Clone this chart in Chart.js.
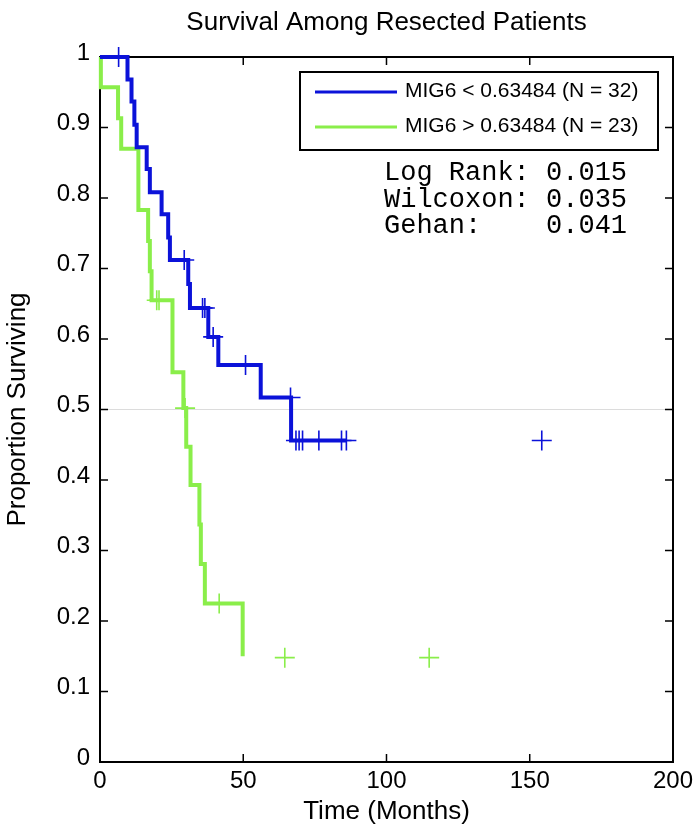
<!DOCTYPE html>
<html>
<head>
<meta charset="utf-8">
<script src="https://cdn.jsdelivr.net/npm/chart.js@4.4.1/dist/chart.umd.min.js"></script>
<style>
  html, body { margin: 0; padding: 0; background: #fff; }
  #wrap { width: 698px; height: 830px; }
</style>
</head>
<body>
<div id="wrap"><canvas id="kmChart" width="698" height="830"></canvas></div>
<script>
const chartTitle = "Survival Among Resected Patients";
const xTitle = "Time (Months)";
const yTitle = "Proportion Surviving";
const lowLabel = "MIG6 < 0.63484 (N = 32)";
const highLabel = "MIG6 > 0.63484 (N = 23)";
const statLines = ["Log Rank: 0.015", "Wilcoxon: 0.035", "Gehan:    0.041"];

// step curves: time of each drop and the survival just after it
const lowTimes = [0, 9.6, 11.0, 12.0, 12.8, 16.3, 17.4, 21.5, 23.8, 24.4, 30.8, 31.4, 37.8, 41.3, 56.1, 66.7, 86.0];
const lowSurv = [1, 0.968, 0.937, 0.904, 0.872, 0.841, 0.808, 0.777, 0.744, 0.712, 0.678, 0.644, 0.603, 0.563, 0.517, 0.456, 0.456];
const lowCensorTimes = [6.5, 29.4, 35.8, 36.6, 39.5, 50.8, 66.5, 68.4, 69.5, 70.7, 76.4, 84.3, 86.0, 154.2];
const lowCensorSurv = [1, 0.712, 0.644, 0.644, 0.603, 0.563, 0.517, 0.456, 0.456, 0.456, 0.456, 0.456, 0.456, 0.456];

const highTimes = [0, 0.3, 6.3, 7.4, 13.4, 16.8, 17.4, 18.0, 25.3, 29.1, 30.1, 31.6, 34.7, 35.2, 36.6, 49.8];
const highSurv = [1, 0.957, 0.913, 0.870, 0.783, 0.739, 0.696, 0.655, 0.553, 0.502, 0.447, 0.393, 0.337, 0.281, 0.225, 0.150];
const highCensorTimes = [19.8, 20.6, 29.7, 41.6, 64.5, 114.9];
const highCensorSurv = [0.655, 0.655, 0.502, 0.225, 0.148, 0.148];

const xTicks = [0, 50, 100, 150, 200];
const yTicks = [0, 0.1, 0.2, 0.3, 0.4, 0.5, 0.6, 0.7, 0.8, 0.9, 1];

const blue = "#0b12d9";
const green = "#8aee4a";
const sans = "'Liberation Sans', Arial, Helvetica, sans-serif";
const mono = "'Liberation Mono', 'Courier New', monospace";

const toPoints = (xs, ys) => xs.map((x, i) => ({ x, y: ys[i] }));

const frame = {
  id: "frame",
  beforeDatasetsDraw(chart) {
    const { ctx, chartArea: a, scales } = chart;
    const len = 8;
    ctx.save();
    ctx.strokeStyle = "#000";
    ctx.lineWidth = 1.5;
    ctx.beginPath();
    xTicks.forEach((v) => {
      const px = scales.x.getPixelForValue(v);
      ctx.moveTo(px, a.bottom); ctx.lineTo(px, a.bottom - len);
      ctx.moveTo(px, a.top); ctx.lineTo(px, a.top + len);
    });
    yTicks.forEach((v) => {
      const py = scales.y.getPixelForValue(v);
      ctx.moveTo(a.left, py); ctx.lineTo(a.left + len, py);
      ctx.moveTo(a.right, py); ctx.lineTo(a.right - len, py);
    });
    ctx.stroke();
    ctx.restore();
  },
  afterDatasetsDraw(chart) {
    const { ctx, chartArea: a } = chart;
    ctx.save();
    // title, centred on the plot
    ctx.fillStyle = "#000";
    ctx.font = "26px " + sans;
    ctx.textAlign = "center";
    ctx.textBaseline = "alphabetic";
    ctx.fillText(chartTitle, (a.left + a.right) / 2, 30);

    // legend box
    const bx = 300, by = 72, bw = 358, bh = 78;
    ctx.fillStyle = "#fff";
    ctx.fillRect(bx, by, bw, bh);
    ctx.strokeStyle = "#000";
    ctx.lineWidth = 2;
    ctx.strokeRect(bx, by, bw, bh);
    const items = chart.data.datasets.slice(0, 2);
    items.forEach((ds, i) => {
      const ly = 92 + i * 35;
      ctx.strokeStyle = ds.borderColor;
      ctx.lineWidth = 3;
      ctx.beginPath();
      ctx.moveTo(315, ly);
      ctx.lineTo(397, ly);
      ctx.stroke();
      ctx.fillStyle = "#000";
      ctx.font = "21px " + sans;
      ctx.textAlign = "left";
      ctx.fillText(ds.label, 405, ly + 5);
    });

    // test statistics
    ctx.font = "27px " + mono;
    ctx.fillStyle = "#000";
    statLines.forEach((s, i) => ctx.fillText(s, 384, 180 + i * 26.5));
    ctx.restore();
  },
};

new Chart(document.getElementById("kmChart"), {
  type: "line",
  data: {
    datasets: [
      {
        label: lowLabel,
        data: toPoints(lowTimes, lowSurv),
        borderColor: blue,
        borderWidth: 4,
        stepped: true,
        pointRadius: 0,
        fill: false,
        clip: false,
      },
      {
        label: highLabel,
        data: toPoints(highTimes, highSurv),
        borderColor: green,
        borderWidth: 4,
        stepped: true,
        pointRadius: 0,
        fill: false,
        clip: false,
      },
      {
        label: "low censored",
        data: toPoints(lowCensorTimes, lowCensorSurv),
        showLine: false,
        pointStyle: "cross",
        pointRadius: 10,
        pointBorderWidth: 1.6,
        borderColor: blue,
        pointBorderColor: blue,
        clip: false,
      },
      {
        label: "high censored",
        data: toPoints(highCensorTimes, highCensorSurv),
        showLine: false,
        pointStyle: "cross",
        pointRadius: 10,
        pointBorderWidth: 1.6,
        borderColor: green,
        pointBorderColor: green,
        clip: false,
      },
    ],
  },
  options: {
    responsive: false,
    animation: false,
    events: [],
    devicePixelRatio: 1,
    layout: { padding: { top: 57, right: 25, left: 0, bottom: 0 } },
    plugins: {
      legend: { display: false },
      title: { display: false },
      tooltip: { enabled: false },
    },
    scales: {
      x: {
        type: "linear",
        position: "bottom",
        min: 0,
        max: 200,
        afterBuildTicks: (s) => { s.ticks = xTicks.map((v) => ({ value: v })); },
        ticks: { color: "#000", font: { family: sans, size: 24 }, padding: 5, maxRotation: 0 },
        grid: { display: false, drawTicks: false },
        border: { display: true, color: "#000", width: 2 },
        title: { display: true, text: xTitle, color: "#000", font: { family: sans, size: 26 }, padding: { top: 0, bottom: 2.4 } },
        afterFit: (s) => { s.height = 68; },
      },
      y: {
        type: "linear",
        position: "left",
        min: 0,
        max: 1,
        afterBuildTicks: (s) => { s.ticks = yTicks.map((v) => ({ value: v })); },
        ticks: {
          color: "#000",
          font: { family: sans, size: 24 },
          padding: 10,
          labelOffset: -4,
          callback: (v) => String(+v.toFixed(1)),
        },
        grid: {
          drawTicks: false,
          lineWidth: 1,
          color: (c) => (c.tick && Math.abs(c.tick.value - 0.5) < 1e-6 ? "#dcdcdc" : "rgba(0,0,0,0)"),
        },
        border: { display: true, color: "#000", width: 2 },
        title: { display: true, text: yTitle, color: "#000", font: { family: sans, size: 26 }, padding: { top: 2.4, bottom: 0 } },
        afterFit: (s) => { s.width = 100; },
      },
      x2: {
        type: "linear",
        position: "top",
        min: 0,
        max: 200,
        ticks: { display: false },
        grid: { display: false, drawTicks: false },
        border: { display: true, color: "#000", width: 2 },
        afterFit: (s) => { s.height = 0; },
      },
      y2: {
        type: "linear",
        position: "right",
        min: 0,
        max: 1,
        ticks: { display: false },
        grid: { display: false, drawTicks: false },
        border: { display: true, color: "#000", width: 2 },
        afterFit: (s) => { s.width = 0; },
      },
    },
  },
  plugins: [frame],
});
</script>
</body>
</html>
